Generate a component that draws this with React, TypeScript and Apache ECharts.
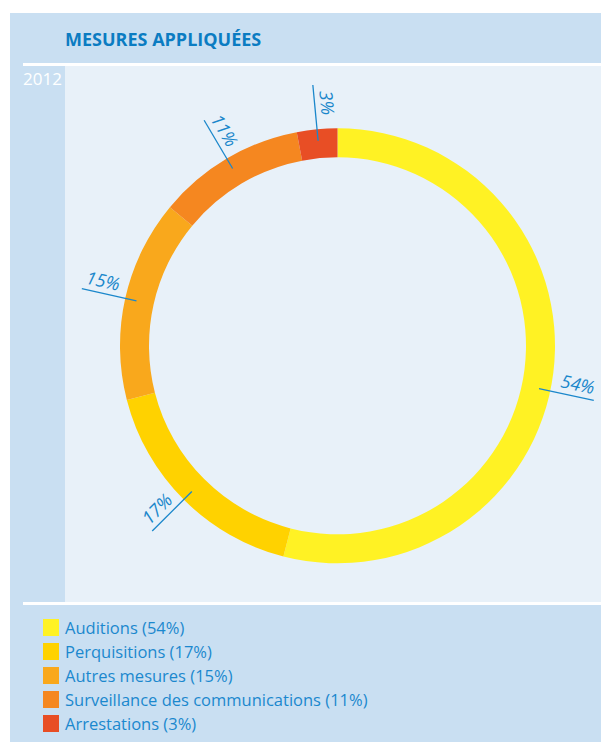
import React, { useEffect, useRef } from "react";
import * as echarts from "echarts";

const categories = [
  "Auditions",
  "Perquisitions",
  "Autres mesures",
  "Surveillance des communications",
  "Arrestations",
];
const shares = [54, 17, 15, 11, 3];
const sliceColors = ["#FFF224", "#FFD200", "#F9A81C", "#F58720", "#E84E25"];
const titleText = "MESURES APPLIQUÉES";
const yearText = "2012";

// layout (pixels)
const W = 601;
const H = 743;
const CX = 337.5;
const CY = 345.8;
const R_OUT = 217.5;
const R_IN = 188.5;
const labelAngleNudge = [4.8, 0, 0, 0, 0];

const OUTER_BG = "#C9DFF2";
const INNER_BG = "#E8F1F9";
const BLUE_TEXT = "#0B7CC2";
const LABEL_BLUE = "#1A87CB";
const FONT = '"Open Sans", "Noto Sans", sans-serif';

function buildLabels(): any[] {
  const total = shares.reduce((a, b) => a + b, 0);
  const els: any[] = [];
  let acc = 0;
  shares.forEach((v, i) => {
    const mid = ((acc + v / 2) / total) * 360 + labelAngleNudge[i];
    acc += v;
    const t = (mid * Math.PI) / 180;
    const ux = Math.sin(t);
    const uy = -Math.cos(t);
    const r0 = 206;
    const r1 = 262;
    els.push({
      type: "line",
      z: 100,
      shape: {
        x1: CX + ux * r0,
        y1: CY + uy * r0,
        x2: CX + ux * r1,
        y2: CY + uy * r1,
      },
      style: { stroke: LABEL_BLUE, lineWidth: 1.3 },
    });
    let dx = ux;
    let dy = uy;
    if (dx < 0) {
      dx = -dx;
      dy = -dy;
    }
    const upx = dy;
    const upy = -dx;
    const rt = 243;
    const off = 12.8;
    els.push({
      type: "text",
      z: 100,
      x: CX + ux * rt + upx * off,
      y: CY + uy * rt + upy * off,
      rotation: -Math.atan2(dy, dx),
      style: {
        text: v + "%",
        fill: LABEL_BLUE,
        font: "italic 18px " + FONT,
        textAlign: "center",
        textVerticalAlign: "middle",
      },
    });
  });
  return els;
}

export default function App() {
  const ref = useRef<HTMLDivElement>(null);
  useEffect(() => {
    if (!ref.current) return;
    const chart = echarts.init(ref.current, undefined, { renderer: "svg" });
    const pieData = categories.map((name, i) => ({
      name,
      value: shares[i],
      itemStyle: { color: sliceColors[i] },
    }));
    const shareByName: Record<string, number> = {};
    categories.forEach((c, i) => (shareByName[c] = shares[i]));
    chart.setOption({
      animation: false,
      graphic: [
        {
          type: "rect",
          z: -10,
          shape: { x: 10, y: 13, width: W - 10, height: 729 },
          style: { fill: OUTER_BG },
        },
        {
          type: "rect",
          z: -9,
          shape: { x: 65, y: 66, width: W - 65, height: 536 },
          style: { fill: INNER_BG },
        },
        {
          type: "rect",
          z: -8,
          shape: { x: 23, y: 63, width: W - 23, height: 3 },
          style: { fill: "#FFFFFF" },
        },
        {
          type: "rect",
          z: -8,
          shape: { x: 23, y: 602, width: W - 23, height: 3 },
          style: { fill: "#FFFFFF" },
        },
        {
          type: "text",
          z: 10,
          x: 65,
          y: 39,
          style: {
            text: titleText,
            fill: BLUE_TEXT,
            font: "bold 18px " + FONT,
            textAlign: "left",
            textVerticalAlign: "middle",
          },
        },
        {
          type: "text",
          z: 10,
          x: 23,
          y: 78,
          style: {
            text: yearText,
            fill: "#FFFFFF",
            font: "17px " + FONT,
            textAlign: "left",
            textVerticalAlign: "middle",
          },
        },
        ...buildLabels(),
      ],
      legend: {
        orient: "vertical",
        left: 43,
        top: 619,
        padding: 0,
        itemWidth: 16,
        itemHeight: 17,
        itemGap: 7,
        icon: "rect",
        selectedMode: false,
        data: categories,
        formatter: (name: string) => `${name} (${shareByName[name]}%)`,
        textStyle: {
          color: "#1B88CE",
          fontSize: 16.5,
          fontFamily: FONT,
          padding: [0, 0, 0, 1],
        },
      },
      series: [
        {
          type: "pie",
          center: [CX, CY],
          radius: [R_IN, R_OUT],
          startAngle: 90,
          clockwise: true,
          silent: true,
          label: { show: false },
          labelLine: { show: false },
          itemStyle: { borderWidth: 0 },
          data: pieData,
        },
      ],
    });
    return () => chart.dispose();
  }, []);
  return (
    <div
      ref={ref}
      style={{ position: "fixed", left: 0, top: 0, width: W, height: H, background: "#FFFFFF" }}
    />
  );
}
